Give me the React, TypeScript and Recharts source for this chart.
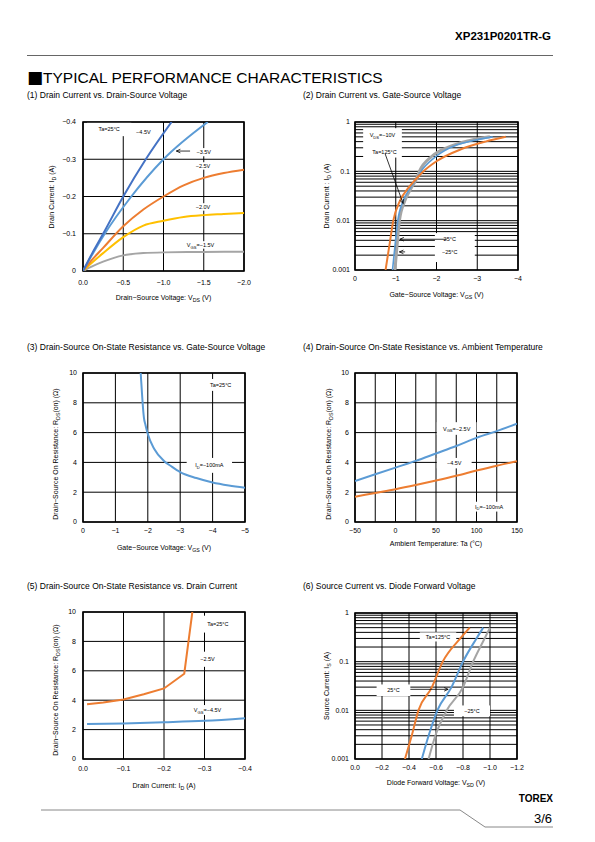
import React from "react";
import { LineChart, Line, XAxis, YAxis, CartesianGrid, ReferenceArea, ReferenceLine } from "recharts";

const FONT = '"Liberation Sans", Arial, Helvetica, sans-serif';
const DBLUE = "#4472C4";
const BLUE = "#5B9BD5";
const ORANGE = "#ED7D31";
const GOLD = "#FFC000";
const GRAY = "#A5A5A5";

type Pt = { v: number; i: number };
type Note = { x1: number; x2: number; y1: number; y2: number; text: string };
type Arrow = { x1: number; y1: number; x2: number; y2: number };
type Series = { data: Pt[]; color: string; width: number; curve?: "monotone" | "linear" };

// (1) Id vs Vds
const c1xTicks = [0, -0.5, -1, -1.5, -2];
const c1yTicks = [0, -0.1, -0.2, -0.3, -0.4];
const id45: Pt[] = [{ v: 0, i: 0 }, { v: -0.12, i: -0.05 }, { v: -0.25, i: -0.1 }, { v: -0.5, i: -0.2 }, { v: -0.78, i: -0.3 }, { v: -1.1, i: -0.4 }];
const id35: Pt[] = [{ v: 0, i: 0 }, { v: -0.13, i: -0.05 }, { v: -0.27, i: -0.1 }, { v: -0.6, i: -0.2 }, { v: -1.0, i: -0.3 }, { v: -1.55, i: -0.4 }];
const id25: Pt[] = [{ v: 0, i: 0 }, { v: -0.1, i: -0.027 }, { v: -0.25, i: -0.062 }, { v: -0.5, i: -0.12 }, { v: -0.75, i: -0.165 }, { v: -1.0, i: -0.2 }, { v: -1.25, i: -0.23 }, { v: -1.5, i: -0.25 }, { v: -1.75, i: -0.263 }, { v: -2.0, i: -0.272 }];
const id20: Pt[] = [{ v: 0, i: 0 }, { v: -0.1, i: -0.02 }, { v: -0.25, i: -0.048 }, { v: -0.5, i: -0.091 }, { v: -0.75, i: -0.122 }, { v: -1.0, i: -0.135 }, { v: -1.25, i: -0.145 }, { v: -1.5, i: -0.15 }, { v: -1.75, i: -0.153 }, { v: -2.0, i: -0.156 }];
const id15: Pt[] = [{ v: 0, i: 0 }, { v: -0.1, i: -0.011 }, { v: -0.25, i: -0.025 }, { v: -0.5, i: -0.042 }, { v: -0.75, i: -0.048 }, { v: -1.0, i: -0.05 }, { v: -1.5, i: -0.051 }, { v: -2.0, i: -0.052 }];

// log axis ticks (grid at every minor step)
const logTicks = [0.001, 0.002, 0.003, 0.004, 0.005, 0.006, 0.007, 0.008, 0.009, 0.01, 0.02, 0.03, 0.04, 0.05, 0.06, 0.07, 0.08, 0.09, 0.1, 0.2, 0.3, 0.4, 0.5, 0.6, 0.7, 0.8, 0.9, 1];
const logLabels = [0.001, 0.01, 0.1, 1];

// (2) Id vs Vgs
const c2xTicks = [0, -1, -2, -3, -4];
const vgs125: Pt[] = [{ v: -0.75, i: 0.001 }, { v: -0.84, i: 0.003 }, { v: -0.94, i: 0.01 }, { v: -1.1, i: 0.025 }, { v: -1.3, i: 0.045 }, { v: -1.5, i: 0.07 }, { v: -1.68, i: 0.1 }, { v: -2.0, i: 0.16 }, { v: -2.6, i: 0.28 }, { v: -3.2, i: 0.4 }, { v: -3.7, i: 0.5 }];
const vgs25: Pt[] = [{ v: -0.92, i: 0.001 }, { v: -0.98, i: 0.003 }, { v: -1.05, i: 0.01 }, { v: -1.18, i: 0.025 }, { v: -1.35, i: 0.045 }, { v: -1.5, i: 0.068 }, { v: -1.62, i: 0.1 }, { v: -1.95, i: 0.19 }, { v: -2.33, i: 0.3 }, { v: -2.9, i: 0.42 }, { v: -3.38, i: 0.5 }];
const vgsM25: Pt[] = [{ v: -0.98, i: 0.001 }, { v: -1.03, i: 0.003 }, { v: -1.09, i: 0.01 }, { v: -1.22, i: 0.025 }, { v: -1.38, i: 0.046 }, { v: -1.5, i: 0.068 }, { v: -1.58, i: 0.1 }, { v: -1.88, i: 0.2 }, { v: -2.25, i: 0.3 }, { v: -2.8, i: 0.42 }, { v: -3.31, i: 0.5 }];

// (3) Rds(on) vs Vgs
const c3xTicks = [0, -1, -2, -3, -4, -5];
const rTicks = [0, 2, 4, 6, 8, 10];
const rVgs: Pt[] = [{ v: -1.78, i: 10 }, { v: -1.81, i: 9 }, { v: -1.84, i: 8 }, { v: -1.88, i: 7 }, { v: -1.93, i: 6.5 }, { v: -2.0, i: 5.9 }, { v: -2.2, i: 4.9 }, { v: -2.5, i: 4.1 }, { v: -2.75, i: 3.7 }, { v: -3.0, i: 3.35 }, { v: -3.5, i: 2.95 }, { v: -4.0, i: 2.65 }, { v: -4.5, i: 2.45 }, { v: -5.0, i: 2.3 }];

// (4) Rds(on) vs Ta
const c4xTicks = [-50, -25, 0, 25, 50, 75, 100, 125, 150];
const rTa25: Pt[] = [{ v: -50, i: 2.75 }, { v: -25, i: 3.2 }, { v: 0, i: 3.65 }, { v: 25, i: 4.1 }, { v: 50, i: 4.6 }, { v: 75, i: 5.1 }, { v: 100, i: 5.65 }, { v: 125, i: 6.1 }, { v: 150, i: 6.6 }];
const rTa45: Pt[] = [{ v: -50, i: 1.7 }, { v: -25, i: 1.95 }, { v: 0, i: 2.2 }, { v: 25, i: 2.48 }, { v: 50, i: 2.78 }, { v: 75, i: 3.1 }, { v: 100, i: 3.45 }, { v: 125, i: 3.78 }, { v: 150, i: 4.08 }];

// (5) Rds(on) vs Id
const c5xTicks = [0, -0.1, -0.2, -0.3, -0.4];
const rId25: Pt[] = [{ v: -0.01, i: 3.72 }, { v: -0.05, i: 3.85 }, { v: -0.1, i: 4.05 }, { v: -0.15, i: 4.4 }, { v: -0.2, i: 4.8 }, { v: -0.25, i: 5.8 }, { v: -0.27, i: 10 }];
const rId45: Pt[] = [{ v: -0.01, i: 2.38 }, { v: -0.1, i: 2.42 }, { v: -0.2, i: 2.5 }, { v: -0.3, i: 2.6 }, { v: -0.4, i: 2.78 }];

// (6) Is vs Vsd
const c6xTicks = [0, -0.2, -0.4, -0.6, -0.8, -1.0, -1.2];
const vsd125: Pt[] = [{ v: -0.37, i: 0.001 }, { v: -0.42, i: 0.003 }, { v: -0.47, i: 0.01 }, { v: -0.57, i: 0.03 }, { v: -0.65, i: 0.1 }, { v: -0.78, i: 0.3 }, { v: -0.85, i: 0.5 }];
const vsd25: Pt[] = [{ v: -0.495, i: 0.001 }, { v: -0.545, i: 0.003 }, { v: -0.61, i: 0.01 }, { v: -0.715, i: 0.03 }, { v: -0.8, i: 0.1 }, { v: -0.9, i: 0.3 }, { v: -0.95, i: 0.5 }];
const vsdM25: Pt[] = [{ v: -0.545, i: 0.001 }, { v: -0.595, i: 0.003 }, { v: -0.68, i: 0.01 }, { v: -0.8, i: 0.03 }, { v: -0.875, i: 0.1 }, { v: -0.96, i: 0.3 }, { v: -1.0, i: 0.5 }];

const neg1 = (v: number) => (v === 0 ? "0.0" : "−" + Math.abs(v).toFixed(1));
const negInt = (v: number) => (v === 0 ? "0" : "−" + Math.abs(v));
const logFmt = (v: number) => (logLabels.includes(v) ? String(v) : "");

function rich(s: string, fs: number) {
  const parts = s.split(/_\{([^}]*)\}/);
  return parts.map((p, k) =>
    k % 2 === 1 ? (
      <tspan key={k} dy={fs * 0.3} fontSize={fs * 0.75}>{p}</tspan>
    ) : (
      <tspan key={k} dy={k === 0 ? 0 : -fs * 0.3}>{p}</tspan>
    )
  );
}

function richHtml(s: string) {
  const parts = s.split(/_\{([^}]*)\}/);
  return parts.map((p, k) =>
    k % 2 === 1 ? (
      <span key={k} style={{ fontSize: "0.75em", position: "relative", top: "0.3em" }}>{p}</span>
    ) : (
      <span key={k}>{p}</span>
    )
  );
}

function noteShape(p: any, text: string) {
  const { x, y, width, height } = p;
  return (
    <g>
      <rect x={x} y={y} width={width} height={height} fill="#fff" />
      {text ? (
        <text x={x + width / 2} y={y + height / 2} textAnchor="middle" dominantBaseline="central" fontSize={5.5} fontFamily={FONT} fill="#000">
          {rich(text, 5.5)}
        </text>
      ) : null}
    </g>
  );
}

function arrowShape(p: any) {
  const { x1, y1, x2, y2 } = p;
  const a = Math.atan2(y2 - y1, x2 - x1);
  const s = 4;
  const ax = x2 - s * Math.cos(a), ay = y2 - s * Math.sin(a);
  const ox = s * 0.45 * Math.sin(a), oy = s * 0.45 * Math.cos(a);
  return (
    <g>
      <line x1={x1} y1={y1} x2={x2} y2={y2} stroke="#000" strokeWidth={0.8} />
      <polyline points={`${ax + ox},${ay - oy} ${x2},${y2} ${ax - ox},${ay + oy}`} fill="none" stroke="#000" strokeWidth={0.8} />
    </g>
  );
}

type PanelProps = {
  plot: [number, number, number, number];
  xDomain: [number, number];
  yDomain: [number, number];
  xTicks: number[];
  yTicks: number[];
  xFmt: (v: number) => string;
  yFmt: (v: number) => string;
  xRev?: boolean;
  yRev?: boolean;
  log?: boolean;
  xGap: number;
  yGap: number;
  xLabel: string;
  yLabel: string;
  xLabelDy: number;
  yLabelDx: number;
  yLabelDy?: number;
  series: Series[];
  notes: Note[];
  arrows: Arrow[];
};

function Panel(p: PanelProps) {
  const [l, t, r, b] = p.plot;
  const YW = 50, TOP = 10, RIGHT = 10, XH = 40;
  const pw = r - l, ph = b - t;
  const W = YW + pw + RIGHT, H = TOP + ph + XH;
  const tick = { fontSize: 7, fill: "#000", fontFamily: FONT };
  return (
    <div style={{ position: "absolute", left: l - YW, top: t - TOP, width: W, height: H }}>
      <LineChart width={W} height={H} margin={{ top: TOP, right: RIGHT, bottom: 0, left: 0 }}>
        <CartesianGrid stroke="#000" strokeWidth={1} />
        <XAxis type="number" dataKey="v" domain={p.xDomain} ticks={p.xTicks} reversed={p.xRev} tickFormatter={p.xFmt} tick={tick}
          tickLine={false} axisLine={false} tickSize={0} tickMargin={p.xGap} height={XH} interval={0} allowDataOverflow />
        <YAxis type="number" domain={p.yDomain} ticks={p.yTicks} reversed={p.yRev} tickFormatter={p.yFmt} tick={tick}
          tickLine={false} axisLine={false} tickSize={0} tickMargin={p.yGap} width={YW} interval={0} allowDataOverflow
          scale={p.log ? "log" : "auto"} />
        {p.notes.map((n, k) => (
          <ReferenceArea key={"n" + k} x1={n.x1} x2={n.x2} y1={n.y1} y2={n.y2} ifOverflow="visible" shape={(sp: any) => noteShape(sp, n.text)} />
        ))}
        {p.series.map((s, k) => (
          <Line key={"s" + k} data={s.data} dataKey="i" type={s.curve || "monotone"} stroke={s.color} strokeWidth={s.width}
            dot={false} activeDot={false} isAnimationActive={false} />
        ))}
        <ReferenceArea x1={p.xDomain[0]} x2={p.xDomain[1]} y1={p.yDomain[0]} y2={p.yDomain[1]} fill="none" fillOpacity={0} stroke="#000" strokeWidth={1.6} ifOverflow="visible" />
        {p.arrows.map((a, k) => (
          <ReferenceLine key={"a" + k} segment={[{ x: a.x1, y: a.y1 }, { x: a.x2, y: a.y2 }]} ifOverflow="visible" shape={arrowShape} />
        ))}
      </LineChart>
      <div style={{ position: "absolute", left: YW + pw / 2, top: TOP + ph + p.xLabelDy, transform: "translate(-50%,-50%)", whiteSpace: "nowrap", fontSize: 7, lineHeight: "9px" }}>
        {richHtml(p.xLabel)}
      </div>
      <div style={{ position: "absolute", left: YW - p.yLabelDx, top: TOP + ph / 2 + (p.yLabelDy || 0), transform: "translate(-50%,-50%) rotate(-90deg)", whiteSpace: "nowrap", fontSize: 7, lineHeight: "9px" }}>
        {richHtml(p.yLabel)}
      </div>
    </div>
  );
}

function Txt({ x, y, size, bold, right, children }: { x: number; y: number; size: number; bold?: boolean; right?: boolean; children: React.ReactNode }) {
  return (
    <div style={{ position: "absolute", left: x, top: y, transform: right ? "translate(-100%,-50%)" : "translate(0,-50%)", fontSize: size, fontWeight: bold ? "bold" : "normal", whiteSpace: "nowrap", lineHeight: 1 }}>
      {children}
    </div>
  );
}

export default function App() {
  return (
    <div style={{ position: "absolute", left: 0, top: 0, width: 595, height: 842, background: "#fff", fontFamily: FONT, color: "#000", overflow: "hidden" }}>
      <Txt x={551} y={37} size={11.5} bold right>XP231P0201TR-G</Txt>
      <div style={{ position: "absolute", left: 27, top: 55, width: 526, height: 1, background: "#666" }} />
      <Txt x={27} y={77} size={15.5}>
        <span style={{ fontFamily: '"DejaVu Sans", sans-serif', fontSize: 17 }}>■</span>TYPICAL PERFORMANCE CHARACTERISTICS
      </Txt>
      <Txt x={27} y={95} size={8.5}>(1) Drain Current vs. Drain-Source Voltage</Txt>
      <Txt x={303} y={95} size={8.5}>(2) Drain Current vs. Gate-Source Voltage</Txt>
      <Txt x={27} y={347} size={8.5}>(3) Drain-Source On-State Resistance vs. Gate-Source Voltage</Txt>
      <Txt x={303} y={347} size={8.5}>(4) Drain-Source On-State Resistance vs. Ambient Temperature</Txt>
      <Txt x={27} y={586} size={8.5}>(5) Drain-Source On-State Resistance vs. Drain Current</Txt>
      <Txt x={303} y={586} size={8.5}>(6) Source Current vs. Diode Forward Voltage</Txt>

      <Panel
        plot={[83, 122, 244, 271]} xDomain={[-2, 0]} yDomain={[-0.4, 0]} xTicks={c1xTicks} yTicks={c1yTicks} xRev yRev
        xFmt={neg1} yFmt={(v) => (v === 0 ? "0" : "−" + Math.abs(v).toFixed(1))} xGap={9} yGap={7}
        xLabel="Drain−Source Voltage: V_{DS} (V)" yLabel="Drain Current: I_{D} (A)" xLabelDy={27} yLabelDx={31}
        series={[
          { data: id15, color: GRAY, width: 2 },
          { data: id20, color: GOLD, width: 2 },
          { data: id25, color: ORANGE, width: 2 },
          { data: id35, color: BLUE, width: 2 },
          { data: id45, color: DBLUE, width: 2 },
        ]}
        notes={[
          { x1: -0.05, x2: -0.6, y1: -0.4, y2: -0.362, text: "Ta=25°C" },
          { x1: -0.64, x2: -0.86, y1: -0.385, y2: -0.36, text: "−4.5V" },
          { x1: -1.38, x2: -1.62, y1: -0.33, y2: -0.308, text: "−3.5V" },
          { x1: -1.38, x2: -1.6, y1: -0.292, y2: -0.272, text: "−2.5V" },
          { x1: -1.38, x2: -1.6, y1: -0.182, y2: -0.162, text: "−2.0V" },
          { x1: -1.25, x2: -1.67, y1: -0.08, y2: -0.06, text: "V_{GS}=−1.5V" },
        ]}
        arrows={[{ x1: -1.33, y1: -0.322, x2: -1.16, y2: -0.322 }]}
      />

      <Panel
        plot={[355, 122, 518, 270]} xDomain={[-4, 0]} yDomain={[0.001, 1]} xTicks={c2xTicks} yTicks={logTicks} xRev log
        xFmt={negInt} yFmt={logFmt} xGap={6} yGap={5}
        xLabel="Gate−Source Voltage: V_{GS} (V)" yLabel="Drain Current : I_{D} (A)" xLabelDy={25} yLabelDx={28}
        series={[
          { data: vgsM25, color: GRAY, width: 3 },
          { data: vgs25, color: BLUE, width: 1.6 },
          { data: vgs125, color: ORANGE, width: 2 },
        ]}
        notes={[
          { x1: -0.2, x2: -1.15, y1: 0.19, y2: 0.75, text: "" },
          { x1: -0.3, x2: -1.05, y1: 0.48, y2: 0.62, text: "V_{DS}=−10V" },
          { x1: -0.35, x2: -1.1, y1: 0.21, y2: 0.29, text: "Ta=125°C" },
          { x1: -1.96, x2: -2.94, y1: 0.00145, y2: 0.0056, text: "" },
          { x1: -2.05, x2: -2.6, y1: 0.0036, y2: 0.0049, text: "25°C" },
          { x1: -2.05, x2: -2.6, y1: 0.002, y2: 0.0027, text: "−25°C" },
        ]}
        arrows={[
          { x1: -0.74, y1: 0.226, x2: -1.18, y2: 0.0223 },
          { x1: -2.25, y1: 0.0042, x2: -1.1, y2: 0.0042 },
          { x1: -1.23, y1: 0.00233, x2: -1.09, y2: 0.00233 },
        ]}
      />

      <Panel
        plot={[83, 373, 245, 522]} xDomain={[-5, 0]} yDomain={[0, 10]} xTicks={c3xTicks} yTicks={rTicks} xRev
        xFmt={negInt} yFmt={(v) => String(v)} xGap={6.5} yGap={6}
        xLabel="Gate−Source Voltage: V_{GS} (V)" yLabel="Drain−Source On Resistance: R_{DS}(on) (Ω)" xLabelDy={26} yLabelDx={27} yLabelDy={6}
        series={[{ data: rVgs, color: BLUE, width: 2 }]}
        notes={[
          { x1: -3.9, x2: -4.6, y1: 8.8, y2: 9.6, text: "Ta=25°C" },
          { x1: -3.2, x2: -4.6, y1: 3.3, y2: 4.3, text: "I_{D}=−100mA" },
        ]}
        arrows={[]}
      />

      <Panel
        plot={[355, 373, 517, 522]} xDomain={[-50, 150]} yDomain={[0, 10]} xTicks={c4xTicks} yTicks={rTicks}
        xFmt={(v) => (v % 50 !== 0 ? "" : v < 0 ? "−" + Math.abs(v) : String(v))} yFmt={(v) => String(v)} xGap={6} yGap={6}
        xLabel="Ambient Temperature: Ta (°C)" yLabel="Drain−Source On Resistance: R_{DS}(on) (Ω)" xLabelDy={21} yLabelDx={26} yLabelDy={6}
        series={[
          { data: rTa45, color: ORANGE, width: 2 },
          { data: rTa25, color: BLUE, width: 2 },
        ]}
        notes={[
          { x1: 51, x2: 100, y1: 5.85, y2: 6.7, text: "V_{GS}=−2.5V" },
          { x1: 51, x2: 94, y1: 3.6, y2: 4.3, text: "−4.5V" },
          { x1: 98, x2: 133, y1: 0.7, y2: 1.36, text: "I_{D}=−100mA" },
        ]}
        arrows={[]}
      />

      <Panel
        plot={[83, 612, 245, 759]} xDomain={[-0.4, 0]} yDomain={[0, 10]} xTicks={c5xTicks} yTicks={rTicks} xRev
        xFmt={neg1} yFmt={(v) => String(v)} xGap={7} yGap={7}
        xLabel="Drain Current: I_{D} (A)" yLabel="Drain−Source On Resistance: R_{DS}(on) (Ω)" xLabelDy={27} yLabelDx={27} yLabelDy={4}
        series={[
          { data: rId25, color: ORANGE, width: 2, curve: "linear" },
          { data: rId45, color: BLUE, width: 2, curve: "monotone" },
        ]}
        notes={[
          { x1: -0.296, x2: -0.37, y1: 8.6, y2: 9.75, text: "Ta=25°C" },
          { x1: -0.285, x2: -0.33, y1: 6.27, y2: 7.3, text: "−2.5V" },
          { x1: -0.27, x2: -0.345, y1: 3.0, y2: 3.67, text: "V_{GS}=−4.5V" },
        ]}
        arrows={[]}
      />

      <Panel
        plot={[355, 613, 517, 759]} xDomain={[-1.2, 0]} yDomain={[0.001, 1]} xTicks={c6xTicks} yTicks={logTicks} xRev log
        xFmt={neg1} yFmt={logFmt} xGap={6} yGap={6}
        xLabel="Diode Forward Voltage: V_{SD} (V)" yLabel="Source Current: I_{S} (A)" xLabelDy={24} yLabelDx={28}
        series={[
          { data: vsdM25, color: GRAY, width: 2 },
          { data: vsd25, color: BLUE, width: 2 },
          { data: vsd125, color: ORANGE, width: 2 },
        ]}
        notes={[
          { x1: -0.48, x2: -0.75, y1: 0.26, y2: 0.4, text: "Ta=125°C" },
          { x1: -0.16, x2: -0.41, y1: 0.0197, y2: 0.034, text: "25°C" },
          { x1: -0.733, x2: -1.0, y1: 0.0076, y2: 0.0126, text: "−25°C" },
        ]}
        arrows={[{ x1: -0.41, y1: 0.027, x2: -0.69, y2: 0.027 }]}
      />

      <svg style={{ position: "absolute", left: 0, top: 0 }} width={595} height={842}>
        <polyline points="41,810 460,810 485,827 553,827" fill="none" stroke="#888" strokeWidth={1} />
      </svg>
      <Txt x={553} y={799} size={10} bold right>TOREX</Txt>
      <Txt x={552} y={818} size={13} right>3/6</Txt>
    </div>
  );
}
